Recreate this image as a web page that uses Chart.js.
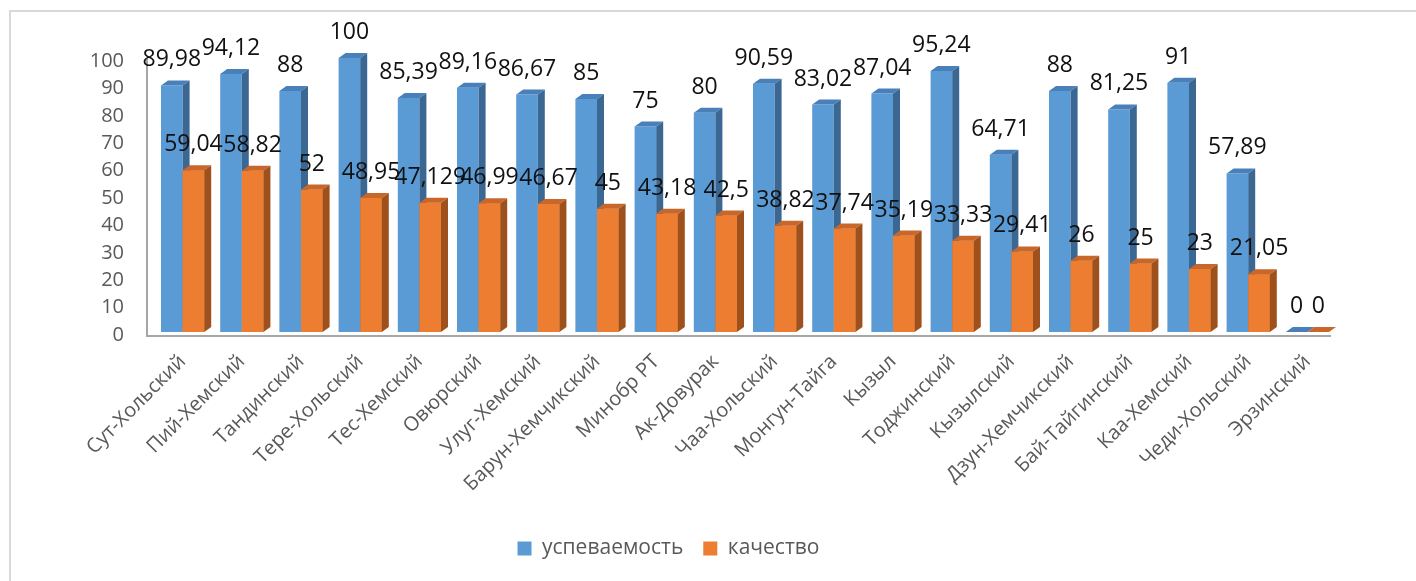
<!DOCTYPE html>
<html>
<head>
<meta charset="utf-8">
<script src="https://cdn.jsdelivr.net/npm/chart.js@4"></script>
<style>
  html, body { margin: 0; padding: 0; background: #fff; }
  #wrap { position: relative; width: 1416px; height: 581px; overflow: hidden; }
  #frame { position: absolute; left: 9px; top: 10px; width: 1500px; height: 700px;
           border-left: 2px solid #d9d9d9; border-top: 2px solid #d9d9d9; }
  #chart { position: absolute; left: 0; top: 0; }
</style>
</head>
<body>
<div id="wrap">
  <div id="frame"></div>
  <canvas id="chart" width="1416" height="581"></canvas>
</div>
<script>
const districts = [
  "Сут-Хольский", "Пий-Хемский", "Тандинский", "Тере-Хольский", "Тес-Хемский",
  "Овюрский", "Улуг-Хемский", "Барун-Хемчикский", "Минобр РТ", "Ак-Довурак",
  "Чаа-Хольский", "Монгун-Тайга", "Кызыл", "Тоджинский", "Кызылский",
  "Дзун-Хемчикский", "Бай-Тайгинский", "Каа-Хемский", "Чеди-Хольский", "Эрзинский"
];
const uspevaemost = [89.98, 94.12, 88, 100, 85.39, 89.16, 86.67, 85, 75, 80,
                     90.59, 83.02, 87.04, 95.24, 64.71, 88, 81.25, 91, 57.89, 0];
const kachestvo = [59.04, 58.82, 52, 48.95, 47.129, 46.99, 46.67, 45, 43.18, 42.5,
                   38.82, 37.74, 35.19, 33.33, 29.41, 26, 25, 23, 21.05, 0];
const yTicks = [0, 10, 20, 30, 40, 50, 60, 70, 80, 90, 100];

// цвета граней: фронт, верх, бок
const faces = [
  { front: "#5b9bd5", top: "#4a80ba", side: "#3b6793" },
  { front: "#ed7d31", top: "#c9662a", side: "#9f511d" }
];
const DX = 7, DY = 5;

function fmt(v) {
  return String(v).replace(".", ",");
}

function drawFaces(ctx, el, f) {
  const p = el.getProps(["x", "y", "base", "width"], true);
  const l = p.x - p.width / 2, r = p.x + p.width / 2;
  ctx.fillStyle = f.top;
  ctx.beginPath();
  ctx.moveTo(l, p.y);
  ctx.lineTo(l + DX, p.y - DY);
  ctx.lineTo(r + DX, p.y - DY);
  ctx.lineTo(r, p.y);
  ctx.closePath();
  ctx.fill();
  ctx.fillStyle = f.side;
  ctx.beginPath();
  ctx.moveTo(r, p.y);
  ctx.lineTo(r + DX, p.y - DY);
  ctx.lineTo(r + DX, p.base - DY);
  ctx.lineTo(r, p.base);
  ctx.closePath();
  ctx.fill();
}

const bar3d = {
  id: "bar3d",
  beforeDatasetsDraw(chart) {
    const { ctx, chartArea } = chart;
    const y = chart.scales.y;
    ctx.save();
    ctx.strokeStyle = "#a6a6a6";
    ctx.lineWidth = 2;
    ctx.beginPath();
    ctx.moveTo(chartArea.left - 6, y.getPixelForValue(100) + 1);
    ctx.lineTo(chartArea.left - 6, chartArea.bottom + 4);
    ctx.lineTo(chartArea.right - 6, chartArea.bottom + 4);
    ctx.stroke();
    ctx.restore();
  },
  afterDatasetsDraw(chart) {
    const ctx = chart.ctx;
    ctx.save();
    chart.data.datasets.forEach((ds, i) => {
      const meta = chart.getDatasetMeta(i);
      meta.data.forEach(el => {
        if (i > 0) el.draw(ctx);
        drawFaces(ctx, el, faces[i]);
      });
    });
    // подписи значений
    ctx.font = "23px 'Open Sans'";
    ctx.fillStyle = "#111";
    ctx.textAlign = "center";
    ctx.textBaseline = "alphabetic";
    chart.data.datasets.forEach((ds, i) => {
      const meta = chart.getDatasetMeta(i);
      meta.data.forEach((el, j) => {
        const p = el.getProps(["x", "y"], true);
        ctx.fillText(fmt(ds.data[j]), p.x, p.y - DY - 14);
      });
    });
    ctx.restore();
  }
};

new Chart(document.getElementById("chart"), {
  type: "bar",
  data: {
    labels: districts,
    datasets: [
      { label: "успеваемость", data: uspevaemost, backgroundColor: faces[0].front },
      { label: "качество", data: kachestvo, backgroundColor: faces[1].front }
    ]
  },
  options: {
    responsive: false,
    animation: false,
    layout: { padding: { top: 58, right: 79, left: 0, bottom: 12 } },
    datasets: { bar: { categoryPercentage: 0.73, barPercentage: 1.0 } },
    scales: {
      x: {
        grid: { display: false, drawTicks: false },
        border: { display: false },
        ticks: {
          maxRotation: 45, minRotation: 45, autoSkip: false, padding: 18,
          color: "#595959", font: { family: "'Open Sans'", size: 20 }
        },
        afterFit: s => { s.height = 186; }
      },
      y: {
        min: 0, max: 100,
        grid: { display: false, drawTicks: false },
        border: { display: false },
        afterBuildTicks: s => { s.ticks = yTicks.map(v => ({ value: v })); },
        ticks: {
          autoSkip: false, padding: 29, labelOffset: 3, color: "#595959",
          font: { family: "'Open Sans'", size: 20 }
        },
        afterFit: s => { s.width = 153; }
      }
    },
    plugins: {
      legend: {
        position: "bottom",
        labels: {
          boxWidth: 14, boxHeight: 14, padding: 20, color: "#595959",
          font: { family: "'Open Sans'", size: 21 }
        }
      },
      tooltip: { enabled: false }
    }
  },
  plugins: [bar3d]
});
</script>
</body>
</html>
